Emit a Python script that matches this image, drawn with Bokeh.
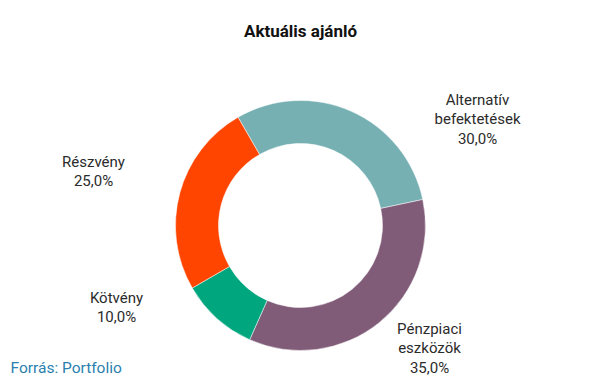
import math
from bokeh.plotting import figure
from bokeh.models import Range1d, ColumnDataSource
from bokeh.core.properties import value
from bokeh.embed import file_html
from bokeh.resources import INLINE

title = "Aktuális ajánló"
source_note = "Forrás: Portfolio"
categories = ["Alternatív\nbefektetések", "Pénzpiaci\neszközök", "Kötvény", "Részvény"]
shares = [30.0, 35.0, 10.0, 25.0]
colors = ["#76b0b3", "#805c78", "#00a67e", "#ff4500"]

# layout (screen px, converted to data y = 378 - screen_y)
W, H = 605, 378
cx, cy_s = 300, 225
r_out, r_in = 125, 82
start_deg = 120.0
label_pos = [(477, 99), (429, 328), (116, 297), (93, 161)]
line_gap = 19.5

def Y(sy):
    return 378 - sy

p = figure(width=W, height=H, output_backend="svg", toolbar_location=None,
           x_range=Range1d(0, W), y_range=Range1d(378 - H, 378),
           min_border=0, outline_line_color=None)
p.axis.visible = False
p.grid.visible = False
p.background_fill_color = "white"
p.border_fill_color = "white"

total = sum(shares)
starts, ends = [], []
cum = 0.0
for v in shares:
    a0 = start_deg - cum / total * 360
    a1 = a0 - v / total * 360
    starts.append(math.radians(a0))
    ends.append(math.radians(a1))
    cum += v

src = ColumnDataSource(dict(x=[cx] * 4, y=[Y(cy_s)] * 4, start=starts, end=ends, color=colors))
p.annular_wedge(x="x", y="y", inner_radius=r_in, outer_radius=r_out,
                inner_radius_units="screen", outer_radius_units="screen",
                start_angle="start", end_angle="end", direction="clock",
                fill_color="color", line_color="white", line_width=0.5, source=src)

lx, ly, lt = [], [], []
for cat, v, (px, py) in zip(categories, shares, label_pos):
    lines = cat.split("\n") + [f"{v:.1f}".replace(".", ",") + "%"]
    for i, t in enumerate(lines):
        lx.append(px)
        ly.append(Y(py + i * line_gap))
        lt.append(t)
p.text(x=lx, y=ly, text=lt, text_align="center", text_baseline="middle",
       text_font=value("Roboto"), text_font_size="15px", text_color="#2b2b2b")

p.text(x=[300], y=[Y(30)], text=[title], text_align="center", text_baseline="middle",
       text_font=value("Roboto"), text_font_size="17px", text_font_style="bold",
       text_color="#111111")

p.text(x=[10], y=[Y(367)], text=[source_note], text_align="left", text_baseline="middle",
       text_font=value("Roboto"), text_font_size="15.5px", text_color="#2a7fae")

open("out.html", "w").write(file_html(p, INLINE))
